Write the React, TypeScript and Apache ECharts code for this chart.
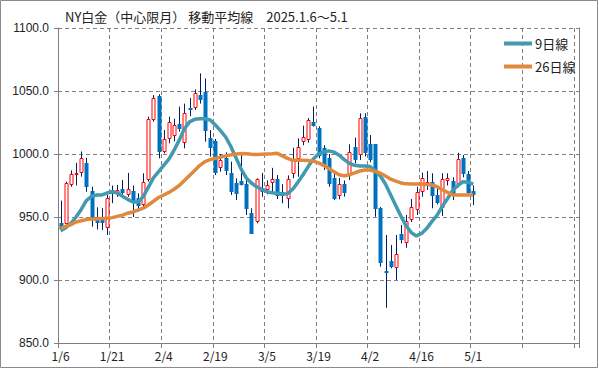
import React, { useEffect, useRef } from "react";
import * as echarts from "echarts";

const dates = [
  "1/6","1/7","1/8","1/9","1/10","1/13","1/14","1/15","1/16","1/17",
  "1/21","1/22","1/23","1/24","1/27","1/28","1/29","1/30","1/31","2/3",
  "2/4","2/5","2/6","2/7","2/10","2/11","2/12","2/13","2/14","2/18",
  "2/19","2/20","2/21","2/24","2/25","2/26","2/27","2/28","3/3","3/4",
  "3/5","3/6","3/7","3/10","3/11","3/12","3/13","3/14","3/17","3/18",
  "3/19","3/20","3/21","3/24","3/25","3/26","3/27","3/28","3/31","4/1",
  "4/2","4/3","4/4","4/7","4/8","4/9","4/10","4/11","4/14","4/15",
  "4/16","4/17","4/21","4/22","4/23","4/24","4/25","4/28","4/29","4/30",
  "5/1",
];
const emptySlots = 20;

const opens = [
  945, 945.5, 976, 984, 985.5, 992.6, 970.6, 949, 948, 942,
  969, 969.3, 972.2, 968, 971, 964.8, 960, 980, 1027.8, 1046,
  1002.6, 1012.4, 1015, 1023.6, 1009.8, 1036.8, 1037, 1047, 1049.4, 1012.4,
  1010.3, 990, 997, 985.2, 976.7, 978.6, 976, 953, 946.8, 973,
  972, 977.5, 980.2, 970, 964.8, 985.2, 996.6, 1010.6, 1011.7, 1025.2,
  1020.9, 1004.5, 997, 981.2, 967.5, 976, 984.7, 1005.8, 999.8, 1029.1,
  1007.7, 1007.7, 956.9, 907.1, 915.1, 910.6, 936.3, 929.9, 948.2, 956.1,
  970.6, 976.7, 978, 967.5, 957.7, 979.4, 978.6, 977.2, 996.6, 983.9,
  970.9,
];
const closes = [
  941, 976.7, 984, 985, 996.6, 974.8, 949, 946.3, 946, 965.3,
  971.2, 971.5, 969.8, 972, 962, 959.8, 977.5, 1027.8, 1044.2, 1002.4,
  1011.9, 1025.6, 1023, 1020.9, 1032.8, 1035.5, 1048.7, 1043.4, 1019, 1005.8,
  986, 995.2, 987.3, 970.6, 969.3, 976.5, 957.4, 937.5, 979.9, 971,
  975.4, 980, 967.5, 967.5, 980, 995.2, 1005.8, 1013.3, 1027, 1023,
  999.2, 990.7, 977.2, 965.3, 976, 969.6, 1001.3, 996, 1028.3, 1001.8,
  995.8, 956.9, 914.5, 906, 911.3, 920.4, 932.5, 946.8, 957.7, 970,
  980.7, 978, 967.5, 962.1, 980, 980.7, 968.8, 995.8, 984.7, 970,
  968,
];
const lows = [
  938, 944, 974, 975, 982, 970, 942.3, 940.2, 939.7, 935.7,
  961, 966, 967.5, 966, 950, 954.2, 957, 978, 1025.6, 996.6,
  1000.5, 1008.5, 1010, 1017.7, 1004.5, 1030, 1034.9, 1040, 1009.8, 997.9,
  983.3, 986, 983.3, 967.5, 963.5, 975, 951.6, 937, 945, 966,
  968, 968.8, 964.3, 960.9, 956.9, 980.7, 982, 1007, 1009, 1021.7,
  996.6, 987.3, 974, 963.5, 964, 966.1, 979.4, 992.6, 995.2, 998,
  993.5, 950.2, 910.6, 878, 909.3, 900, 929.1, 925.6, 946, 951.6,
  966.1, 971.4, 956.9, 960, 950.8, 975, 963.5, 973.5, 981.5, 967.5,
  959.5,
];
const highs = [
  963, 978, 987, 993, 1002, 997, 974, 957.7, 957, 967.5,
  975, 975.4, 979.4, 985, 975, 968.8, 984.7, 1029.6, 1046.8, 1047.4,
  1019, 1029.6, 1028, 1037.6, 1040, 1044.5, 1051.3, 1064, 1060, 1019,
  1012, 1000, 1001.3, 993.9, 980.7, 1000.5, 980.7, 956.9, 980.7, 985,
  979, 989, 983.3, 976, 983, 1005, 1012.4, 1022.5, 1028.5, 1037.6,
  1022, 1007, 1000, 985, 981, 979, 1007.7, 1013, 1032.3, 1032.3,
  1015, 1008, 958, 935.7, 927.8, 935.7, 943.7, 951.6, 964.3, 974,
  985.2, 986.5, 984.7, 973, 984.7, 984.7, 981.5, 1001, 999.2, 986.5,
  975,
];
const ma9 = [
  939, 941.5, 945, 950, 956, 963, 966.5, 967.5, 967.5, 969,
  970, 969, 966.5, 964, 962, 962, 966, 973.5, 981, 986,
  991, 996, 1003, 1011, 1020, 1025.5, 1027.5, 1028, 1028, 1027,
  1023, 1018.5, 1013.5, 1006, 997, 988, 981, 977, 974, 972,
  970, 969.3, 968.8, 968.3, 968.5, 972, 977.5, 983.5, 990, 996,
  1000, 1001.5, 1002.5, 1001.5, 999, 995.5, 992.5, 991, 990.5, 990.5,
  990, 987, 982.5, 976, 967.5, 959, 950.5, 943, 937.5, 935,
  937, 941, 946.5, 951.5, 958.5, 964.5, 971, 975, 978, 977.5,
  976.2,
];
const ma26 = [
  941, 942.5, 944, 946, 947, 948, 948.5, 948.5, 948.8, 949,
  949.5, 950.5, 951.5, 953, 954, 955.5, 957, 959.5, 962.5, 965.5,
  967.5, 969.5, 972, 975, 979, 983, 987, 991, 994, 995.5,
  996.5, 997.5, 998.5, 999.3, 1000, 1000.3, 1000.2, 999.8, 999.6, 999.8,
  1000, 1000.2, 1000.5, 998.5, 996.5, 995, 995, 995, 994.8, 994.3,
  993, 991, 988.5, 986, 983.5, 982.8, 983.5, 985, 986.5, 987.3,
  987.3, 986, 984.7, 982.5, 980, 978.5, 977, 976.3, 976.2, 976.2,
  976.2, 975.8, 975.4, 974, 971.6, 969.5, 967.5, 967.5, 967.5, 967.5,
  967.5,
];
const yTicks = { min: 850, max: 1100, interval: 50 };

const FONT = "'Noto Sans CJK JP', 'Noto Sans', sans-serif";

export default function App() {
  const ref = useRef<HTMLDivElement>(null);
  useEffect(() => {
    if (!ref.current) return;
    const chart = echarts.init(ref.current, null, { renderer: "svg" });
    const categories = dates.concat(Array.from({ length: emptySlots }, () => ""));
    const candleData = dates.map((_, i) => [i, opens[i], closes[i], lows[i], highs[i]]);

    chart.setOption({
      animation: false,
      backgroundColor: "#ffffff",
      title: {
        text: "NY白金（中心限月） 移動平均線　2025.1.6～5.1",
        left: 60,
        top: 5,
        textStyle: { fontSize: 13, fontWeight: "normal", color: "#222", fontFamily: FONT },
      },
      legend: {
        data: ["9日線", "26日線"],
        orient: "vertical",
        left: 499,
        top: 32,
        icon: "rect",
        itemWidth: 28,
        itemHeight: 4,
        itemGap: 10,
        textStyle: { fontSize: 13, color: "#222", fontFamily: FONT, padding: [0, 0, 0, -2] },
      },
      grid: { left: 58, top: 28, right: 20, bottom: 26 },
      xAxis: {
        type: "category",
        data: categories,
        boundaryGap: true,
        axisLine: { lineStyle: { color: "#808080", width: 1 } },
        axisTick: { show: true, interval: 9, length: 5, lineStyle: { color: "#808080" } },
        axisLabel: { interval: 9, color: "#222", fontSize: 12, fontFamily: FONT, margin: 6 },
        splitLine: { show: true, interval: 9, lineStyle: { color: "#808080", type: [4, 3] } },
      },
      yAxis: [
        {
          type: "value",
          min: yTicks.min,
          max: yTicks.max,
          interval: yTicks.interval,
          axisLine: { show: true, lineStyle: { color: "#808080" } },
          axisTick: { show: true, length: 4, lineStyle: { color: "#808080" } },
          axisLabel: {
            formatter: (v: number) => v.toFixed(1),
            color: "#222",
            fontSize: 12,
            fontFamily: "'Liberation Sans', sans-serif",
            margin: 9,
          },
          splitLine: { show: true, lineStyle: { color: "#808080", type: [4, 3] } },
        },
        {
          type: "value",
          min: yTicks.min,
          max: yTicks.max,
          interval: yTicks.interval,
          position: "right",
          axisLine: { show: true, lineStyle: { color: "#808080" } },
          axisTick: { show: false },
          axisLabel: { show: false },
          splitLine: { show: false },
        },
      ],
      graphic: [
        {
          type: "rect",
          shape: { x: 0.5, y: 0.5, width: 597, height: 367 },
          style: { fill: "none", stroke: "#8a8a8a", lineWidth: 1 },
          silent: true,
        },
      ],
      series: [
        {
          type: "custom",
          name: "candles",
          data: candleData,
          encode: { x: 0, y: [1, 2, 3, 4] },
          z: 2,
          renderItem: (params: any, api: any) => {
            const idx = api.value(0);
            const o = api.value(1);
            const c = api.value(2);
            const l = api.value(3);
            const h = api.value(4);
            const pO = api.coord([idx, o]);
            const pC = api.coord([idx, c]);
            const pL = api.coord([idx, l]);
            const pH = api.coord([idx, h]);
            const cx = Math.round(pO[0]);
            const up = c >= o;
            const top = Math.round(Math.min(pO[1], pC[1]));
            const bot = Math.round(Math.max(pO[1], pC[1]));
            const hgt = Math.max(bot - top, 1);
            return {
              type: "group",
              children: [
                {
                  type: "line",
                  shape: { x1: cx + 0.5, y1: pH[1], x2: cx + 0.5, y2: pL[1] },
                  style: { stroke: "#002060", lineWidth: 1 },
                },
                up
                  ? {
                      type: "rect",
                      shape: { x: cx - 1, y: top + 0.5, width: 3, height: hgt },
                      style: { fill: "#ffffff", stroke: "#ff0000", lineWidth: 1 },
                    }
                  : {
                      type: "rect",
                      shape: { x: cx - 1.5, y: top, width: 4, height: hgt + 1 },
                      style: { fill: "#0070c0", stroke: "none" },
                    },
              ],
            };
          },
        },
        {
          type: "line",
          name: "9日線",
          data: ma9,
          symbol: "none",
          smooth: false,
          z: 3,
          lineStyle: { color: "#4299b0", width: 3.5 },
          itemStyle: { color: "#4299b0" },
        },
        {
          type: "line",
          name: "26日線",
          data: ma26,
          symbol: "none",
          smooth: false,
          z: 3,
          lineStyle: { color: "#e0893c", width: 3.5 },
          itemStyle: { color: "#e0893c" },
        },
      ],
    });
    return () => chart.dispose();
  }, []);
  return (
    <div
      ref={ref}
      style={{ position: "absolute", left: 0, top: 0, width: 599, height: 369 }}
    />
  );
}
